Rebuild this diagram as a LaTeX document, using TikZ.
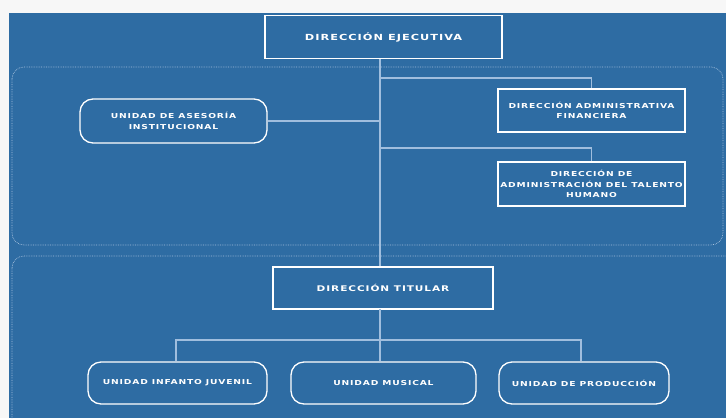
\documentclass[tikz,border=0pt]{standalone}
\usepackage{fontspec}
\setmainfont{DejaVu Sans}
\newfontfamily\boxfont[FakeStretch=1.35,LetterSpace=12]{DejaVu Sans}
\usetikzlibrary{positioning}
\definecolor{orgblue}{RGB}{46,108,163}
\definecolor{linkblue}{RGB}{160,190,222}
\definecolor{dotblue}{RGB}{165,192,220}

\begin{document}
\begin{tikzpicture}[x=1pt,y=-1pt,
  dirbox/.style={draw=white, line width=1.6pt, text=white, align=center,
    font=\boxfont\bfseries\fontsize{8.4}{10.5}\selectfont},
  unitbox/.style={draw=white, line width=1.3pt, text=white, align=center,
    rounded corners=13pt, font=\boxfont\bfseries\fontsize{6.8}{10.5}\selectfont},
  areabox/.style={draw=white, line width=1.3pt, text=white, align=center,
    font=\boxfont\bfseries\fontsize{6.8}{10.5}\selectfont},
  link/.style={draw=linkblue, line width=1.3pt},
  zone/.style={draw=dotblue, densely dotted, line width=0.7pt, rounded corners=12pt}]
\clip (0,0) rectangle (726,418);
% background
\fill[gray!6] (0,0) rectangle (726,418);
\fill[orgblue] (9,13) rectangle (726,418);
% dotted zones
\draw[zone] (12,67) rectangle (723,245);
\draw[zone] (12,256) rectangle (740,440);
% draws boxes
\node[dirbox, minimum width=237pt, minimum height=43pt] (ejec) at (383.5,37) {DIRECCIÓN EJECUTIVA};
\node[unitbox, minimum width=187pt, minimum height=44pt] (asesoria) at (173.5,121) {UNIDAD DE ASESORÍA\\INSTITUCIONAL};
\node[areabox, minimum width=187pt, minimum height=43pt] (admfin) at (591.5,110.5) {DIRECCIÓN ADMINISTRATIVA\\FINANCIERA};
\node[areabox, minimum width=187pt, minimum height=44pt, inner sep=0pt] (talento) at (591.5,184) {DIRECCIÓN DE\\ADMINISTRACIÓN DEL TALENTO\\HUMANO};
\node[dirbox, minimum width=220pt, minimum height=42pt, font=\boxfont\bfseries\fontsize{7.8}{10.5}\selectfont] (titular) at (383,288) {DIRECCIÓN TITULAR};
\node[unitbox, minimum width=179pt, minimum height=42pt] (infanto) at (177.5,383) {UNIDAD INFANTO JUVENIL};
\node[unitbox, minimum width=185pt, minimum height=42pt] (musical) at (383.5,383) {UNIDAD MUSICAL};
\node[unitbox, minimum width=170pt, minimum height=42pt] (produccion) at (584,383) {UNIDAD DE PRODUCCIÓN};
% junctions
\coordinate (top) at (380,59);
\coordinate (j1) at (380,78);
\coordinate (j3) at (380,148);
\coordinate (mid) at (380,309);
\coordinate (j4) at (380,340);
% draws edges
\draw[link] (top) -- (titular.north -| top);
\draw[link] (j1) -| (admfin.north);
\draw[link] (asesoria.east) -- (asesoria.east -| top);
\draw[link] (j3) -| (talento.north);
\draw[link] (mid) -- (musical.north -| mid);
\draw[link] (j4) -| (infanto.north -| 176,0);
\draw[link] (j4) -| (produccion.north -| 581,0);
\end{tikzpicture}
\end{document}
